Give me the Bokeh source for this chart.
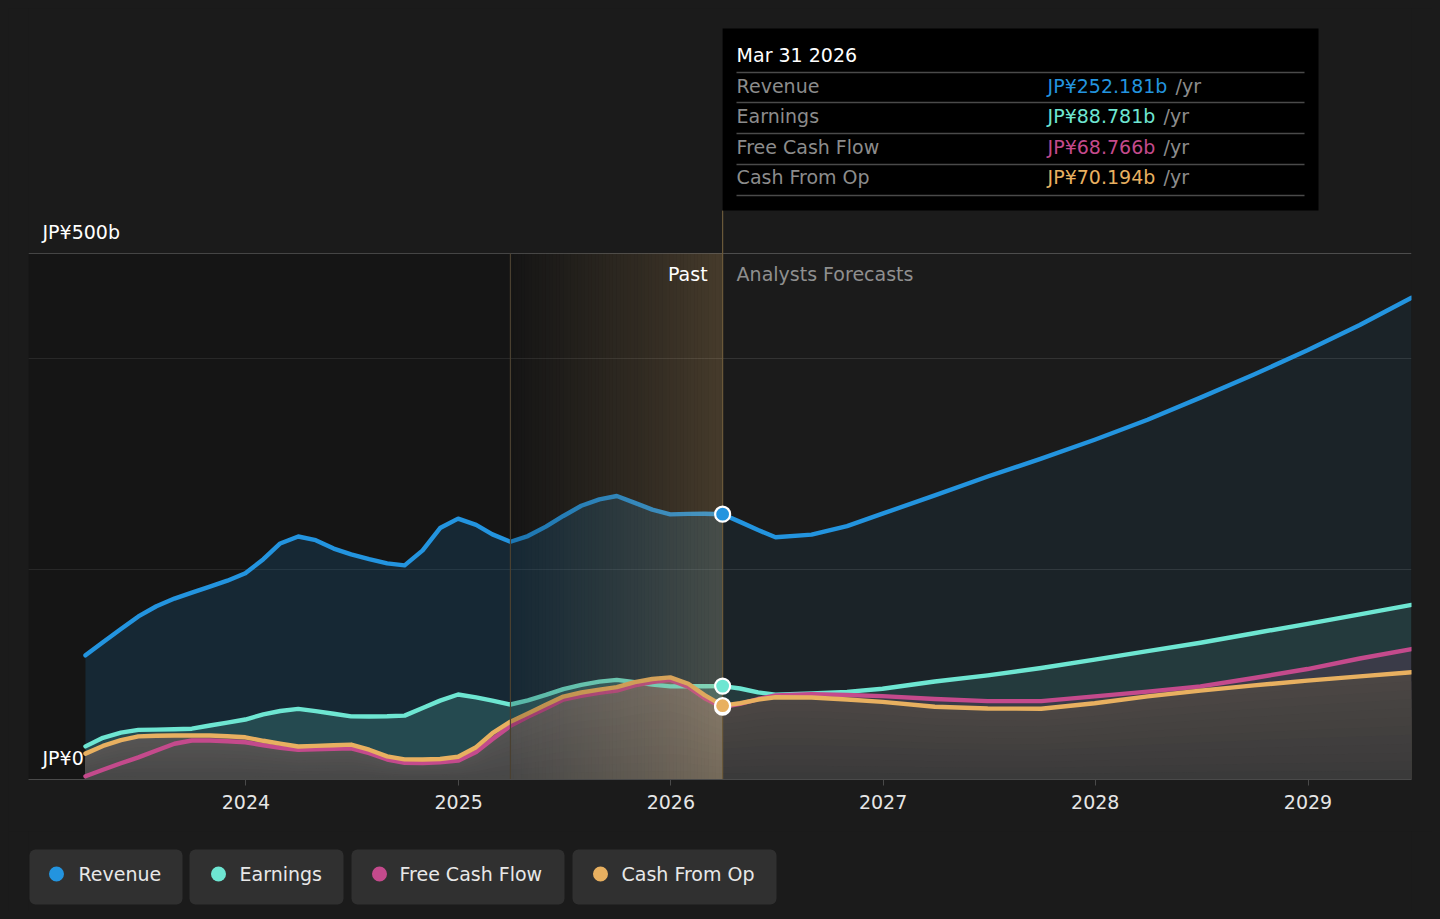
import numpy as np
import pandas as pd
from bokeh.plotting import figure
from bokeh.models import Range1d, FixedTicker, DatetimeTickFormatter, Label, BoxAnnotation
from bokeh.layouts import column
from bokeh.embed import file_html
from bokeh.resources import INLINE
from bokeh.core.properties import value

# ---------------- data (JP¥ billions) ----------------
past_dates = ["2023-03-31", "2023-04-30", "2023-05-31", "2023-06-30", "2023-07-31", "2023-08-31",
              "2023-09-30", "2023-10-31", "2023-11-30", "2023-12-31", "2024-01-31", "2024-02-29",
              "2024-03-31", "2024-04-30", "2024-05-31", "2024-06-30", "2024-07-31", "2024-08-31",
              "2024-09-30", "2024-10-31", "2024-11-30", "2024-12-31", "2025-01-31", "2025-02-28",
              "2025-03-31", "2025-04-30", "2025-05-31", "2025-06-30", "2025-07-31", "2025-08-31",
              "2025-09-30", "2025-10-31", "2025-11-30", "2025-12-31", "2026-01-31", "2026-02-28",
              "2026-03-31"]
revenue_past = [118, 130.5, 143, 155, 164.7, 172, 177.7, 183.3, 189, 196, 209.4, 224.4,
                231, 227.5, 219.5, 214, 209.5, 205.5, 203.5, 217.8, 239, 248, 242, 233,
                226, 231.4, 240.4, 250.5, 260.2, 266.3, 269.5, 263, 256.5, 252, 252.5, 252.6,
                252.181]
earnings_past = [31.5, 39.6, 44.5, 47.2, 47.4, 47.8, 48.3, 51.3, 54, 57, 61.9, 65.1,
                 67.1, 65, 62.5, 60, 59.9, 60.1, 60.7, 68, 75, 80.8, 78, 75,
                 71.3, 75.3, 80.4, 85.9, 90, 93, 94.7, 92.6, 90.2, 88.5, 88.6, 88.7,
                 88.781]
fcf_past = [3.1, 9.3, 15.4, 21, 27.6, 34, 37.1, 37.1, 36.4, 35.4, 32.6, 30.2,
            28.2, 28.6, 29.2, 29.7, 25, 19, 15.8, 15.7, 16.3, 17.9, 26.2, 38.3,
            51, 59.7, 67.7, 76, 79.5, 82.3, 84.5, 89.4, 92.7, 94.7, 88, 77.3,
            68.766]
cfo_past = [24.6, 31.9, 37.4, 41, 41.6, 41.8, 41.8, 41.8, 41.1, 40.1, 36.8, 34.1,
            31.4, 32, 32.6, 33.2, 28.3, 22, 19.1, 19, 19.5, 21.6, 30.7, 44,
            55, 62.7, 71.1, 78.8, 82.7, 85.4, 87.8, 92.5, 95.5, 97.1, 91, 80.2,
            70.194]

fc_dates = ["2026-03-31", "2026-04-30", "2026-05-31", "2026-06-30", "2026-08-31", "2026-10-31",
            "2026-12-31", "2027-03-31", "2027-06-30", "2027-09-30", "2027-12-31", "2028-03-31",
            "2028-06-30", "2028-09-30", "2028-12-31", "2029-03-31", "2029-06-28"]
revenue_fc = [252.181, 244.9, 237.1, 230.3, 232.8, 240.9, 252.7, 270.1, 288, 305, 323, 342,
              363, 385, 408, 432, 458]
earnings_fc = [88.781, 86.5, 82.8, 80.7, 81.7, 83.3, 86.3, 93.2, 99, 106, 114, 122,
               130, 139, 148, 157, 166]
fcf_fc = [68.766, 72, 76.5, 80, 81.2, 80.3, 79.3, 76.5, 74.5, 74.5, 79, 83.5,
          88.5, 96.5, 105, 115, 124]
cfo_fc = [70.194, 72.5, 76, 78.2, 78, 76, 73.8, 69.2, 67.5, 67.2, 72.5, 79,
          84.5, 89.5, 94, 98, 102]

series_names = ["Revenue", "Earnings", "Free Cash Flow", "Cash From Op"]
series_colors = ["#2394DF", "#6EE6D2", "#C44A8C", "#E8B060"]
tooltip_values = ["JP¥252.181b", "JP¥88.781b", "JP¥68.766b", "JP¥70.194b"]
year_ticks = ["2024-01-01", "2025-01-01", "2026-01-01", "2027-01-01", "2028-01-01", "2029-01-01"]
y_grid_ticks = [200, 400]
y_top_label = "JP¥500b"
y_zero_label = "JP¥0"

# ---------------- helpers ----------------
BG = "#1b1b1b"
FONT = "DejaVu Sans"


def ms(d):
    return pd.Timestamp(d).value / 1e6


X0, X1 = ms("2022-12-23"), ms("2029-06-28")
Y_TOP = 771 * 500 / 526  # value at top of frame


def xd(px):  # page pixel -> x data (annotation placement only)
    return X0 + (px - 28) / 1383 * (X1 - X0)


def yv(py):  # page pixel -> y data (annotation placement only)
    return (779 - py) * 500 / 526


def lerp_hex(c_a, c_b, f):
    return "#%02x%02x%02x" % tuple(int(round(a + (b - a) * f)) for a, b in zip(c_a, c_b))


pd_ms = [ms(d) for d in past_dates]
fc_ms = [ms(d) for d in fc_dates]
past_start = ms("2025-03-31")
fc_start = fc_ms[0]

p = figure(width=1424, height=823, x_axis_type="datetime",
           x_range=Range1d(X0, X1), y_range=Range1d(0, Y_TOP),
           output_backend="svg", toolbar_location=None, y_axis_location=None,
           min_border_left=20, min_border_right=21, min_border_top=0, min_border_bottom=52,
           background_fill_color=BG, border_fill_color=BG, outline_line_color=None)

p.xgrid.visible = False
p.ygrid.ticker = FixedTicker(ticks=y_grid_ticks)
p.ygrid.grid_line_color = "#333333"
p.ygrid.grid_line_width = 1

ax = p.xaxis[0]
ax.ticker = FixedTicker(ticks=[ms(d) for d in year_ticks])
ax.formatter = DatetimeTickFormatter(years="%Y", months="%Y", days="%Y", hours="%Y",
                                     hourmin="%Y", minutes="%Y", minsec="%Y", seconds="%Y",
                                     milliseconds="%Y", microseconds="%Y")
ax.axis_line_color = "#4a4a4a"
ax.major_tick_line_color = "#4a4a4a"
ax.major_tick_out = 6
ax.major_tick_in = 0
ax.minor_tick_line_color = None
ax.major_label_text_color = "#e6e6e6"
ax.major_label_text_font = FONT
ax.major_label_text_font_size = "19px"
ax.major_label_standoff = 9

# top 500 line
p.segment(x0=[X0], y0=[500], x1=[X1], y1=[500], line_color="#4d4d4d", line_width=1.2)

# areas
p.varea(x=pd_ms, y1=0, y2=revenue_past, fill_color=series_colors[0], fill_alpha=0.2)
p.varea(x=fc_ms, y1=0, y2=revenue_fc, fill_color=series_colors[0], fill_alpha=0.065)
p.varea(x=pd_ms, y1=0, y2=earnings_past, fill_color=series_colors[1], fill_alpha=0.24)
p.varea(x=fc_ms, y1=0, y2=earnings_fc, fill_color=series_colors[1], fill_alpha=0.12)
p.varea(x=pd_ms, y1=0, y2=fcf_past, fill_color=series_colors[2], fill_alpha=0.14)
p.varea(x=fc_ms, y1=0, y2=fcf_fc, fill_color=series_colors[2], fill_alpha=0.14)

# bottom (cash) area with a vertical gradient: lighter close to the line
K = 12
cfo_p = np.array(cfo_past)
cfo_f = np.array(cfo_fc)
for k in range(K):
    frac = (K - k) / K
    f = frac  # 1 at top band
    p.varea(x=pd_ms, y1=0, y2=cfo_p * frac, fill_color=lerp_hex((88, 88, 88), (108, 106, 105), f),
            fill_alpha=1)
    p.varea(x=fc_ms, y1=0, y2=cfo_f * frac, fill_color=lerp_hex((57, 57, 57), (75, 70, 68), f),
            fill_alpha=1)

# dark past background (over the areas, under the lines)
p.quad(left=[X0], right=[past_start], bottom=[0], top=[500], fill_color="black",
       fill_alpha=0.2, line_color=None)

# lines
for past_vals, fc_vals, col in [(revenue_past, revenue_fc, series_colors[0]),
                                (earnings_past, earnings_fc, series_colors[1]),
                                (fcf_past, fcf_fc, series_colors[2]),
                                (cfo_past, cfo_fc, series_colors[3])]:
    p.line(x=pd_ms, y=past_vals, line_color=col, line_width=4.4, line_join="round", line_cap="round")
    p.line(x=fc_ms, y=fc_vals, line_color=col, line_width=4.4, line_join="round", line_cap="round")

# golden gradient over last year of past
N = 60
edges = np.linspace(past_start, fc_start, N + 1)
t = (np.arange(N) + 0.5) / N
cols = [lerp_hex((0, 0, 0), (208, 162, 98), ti) for ti in t]
alphas = list(0.2 + (0.24 - 0.2) * t)
p.quad(left=edges[:-1], right=edges[1:], bottom=0, top=500, fill_color=cols,
       fill_alpha=alphas, line_color=None)

# vertical lines
p.segment(x0=[past_start], y0=[0], x1=[past_start], y1=[500], line_color="#4a4030", line_width=1.2)
p.segment(x0=[fc_start], y0=[0], x1=[fc_start], y1=[yv(210)], line_color="#6b5a3a", line_width=1.2)

# markers at the current point
p.scatter(x=[fc_start] * 4, y=[revenue_fc[0], earnings_fc[0], fcf_fc[0], cfo_fc[0]],
          size=15, fill_color=series_colors, line_color="white", line_width=2.2)

# tooltip box
p.quad(left=[fc_start], right=[xd(1318)], bottom=[yv(210)], top=[yv(28)], fill_color="black",
       line_color=None)
sep_y = [72, 102, 133, 164, 195]
p.segment(x0=[xd(736)] * 5, x1=[xd(1304)] * 5, y0=[yv(v) for v in sep_y], y1=[yv(v) for v in sep_y],
          line_color="#4a4a4a", line_width=1.3)


def lab(x, y, text, color, align="left", size="19px", xoff=0):
    p.add_layout(Label(x=x, y=y, text=text, text_color=color, text_font=FONT,
                       text_font_size=size, text_align=align, text_baseline="middle", x_offset=xoff))


lab(fc_start, yv(54), "Mar 31 2026", "#ffffff", xoff=14)
row_y = [85, 115, 146, 176]
yr_off = [453, 441, 441, 441]
for i in range(4):
    lab(fc_start, yv(row_y[i]), series_names[i], "#8c8c8c", xoff=14)
    lab(fc_start, yv(row_y[i]), tooltip_values[i], series_colors[i], xoff=325)
    lab(fc_start, yv(row_y[i]), "/yr", "#8c8c8c", xoff=yr_off[i])

lab(fc_start, yv(273), "Past", "#ffffff", align="right", xoff=-15)
lab(fc_start, yv(273), "Analysts Forecasts", "#8f8f8f", xoff=14)
lab(X0, yv(231), y_top_label, "#ffffff", xoff=14)
lab(X0, yv(757), y_zero_label, "#ffffff", xoff=14)

# ---------------- legend (x in page pixels) ----------------
lg = figure(width=1424, height=80, x_range=Range1d(28, 1411), y_range=Range1d(80, 0),
            x_axis_location=None, y_axis_location=None, output_backend="svg",
            toolbar_location=None, min_border_left=20, min_border_right=21,
            min_border_top=0, min_border_bottom=0, background_fill_color=BG,
            border_fill_color=BG, outline_line_color=None)
lg.grid.visible = False
box_x = [(29, 182), (189, 343), (351, 564), (572, 776)]
for (l, r) in box_x:
    lg.add_layout(BoxAnnotation(left=l, right=r, top=18, bottom=73, fill_color="#303030",
                                fill_alpha=1, line_color=None, border_radius=6, level="underlay"))
lg.scatter(x=[56, 218, 379, 600], y=[42.5] * 4, size=15, fill_color=series_colors, line_color=None)
lg.text(x=[78, 239, 399, 621], y=[42.5] * 4, text=series_names, text_font=value(FONT),
        text_font_size="19px", text_baseline="middle", text_color="#e8e8e8")

layout = column(p, lg, spacing=0)
html = file_html(layout, INLINE)
html = html.replace("</head>", "<style>html,body{background:#1b1b1b;margin:0;}body{margin:8px;}</style></head>", 1)
open("out.html", "w").write(html)
